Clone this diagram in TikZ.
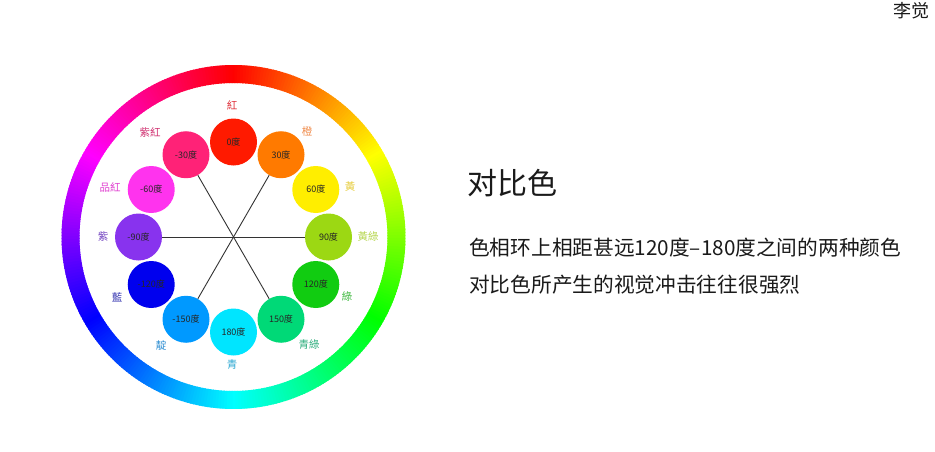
\documentclass[tikz,border=0pt]{standalone}
\usepackage{fontspec}
\usetikzlibrary{calc}
\newfontfamily\cjksc{Noto Sans CJK SC}
\newfontfamily\cjktc{Noto Sans CJK TC}
\definecolor{col0}{HTML}{FF1A00}
\definecolor{col30}{HTML}{FF7A00}
\definecolor{col60}{HTML}{FFEE00}
\definecolor{col90}{HTML}{9CD813}
\definecolor{col120}{HTML}{11CC11}
\definecolor{col150}{HTML}{00D977}
\definecolor{col180}{HTML}{00E5FF}
\definecolor{colm150}{HTML}{0099FF}
\definecolor{colm120}{HTML}{0000EE}
\definecolor{colm90}{HTML}{8833EE}
\definecolor{colm60}{HTML}{FF33EE}
\definecolor{colm30}{HTML}{FF2277}
\definecolor{lab0}{HTML}{E0303A}
\definecolor{lab30}{HTML}{F08C4C}
\definecolor{lab60}{HTML}{E6CC3A}
\definecolor{lab90}{HTML}{B6D64E}
\definecolor{lab120}{HTML}{3CB83C}
\definecolor{lab150}{HTML}{2EAE7E}
\definecolor{lab180}{HTML}{2EA8D2}
\definecolor{labm150}{HTML}{2E8ED2}
\definecolor{labm120}{HTML}{3434B0}
\definecolor{labm90}{HTML}{7040C0}
\definecolor{labm60}{HTML}{E040D0}
\definecolor{labm30}{HTML}{D03070}
\definecolor{spokec}{HTML}{333333}
\definecolor{textc}{HTML}{1A1A1A}
\tikzset{
  huecircle/.style={circle, minimum size=47pt, inner sep=0pt, text=black!85, font=\cjksc\fontsize{9}{10}\selectfont},
  huelabel/.style={inner sep=0pt, font=\cjktc\fontsize{10.5}{11}\selectfont},
  spoke/.style={draw=spokec, line width=0.9pt},
  bodytext/.style={anchor=west, inner sep=0pt, text=textc, font=\cjksc\fontsize{20.7}{24}\selectfont},
}
\begin{document}
\begin{tikzpicture}[x=1pt,y=1pt]
\useasboundingbox (0,0) rectangle (935,451);
\fill[white] (0,0) rectangle (935,451);
\coordinate (O) at (233.5,214);
% hue ring
\foreach \a in {0,...,359} {
  \pgfmathsetmacro{\hh}{\a < 240 ? \a : 240 + (\a-240)*1.0}
  \definecolor{ringc}{Hsb}{\hh,1,1}
  \pgfmathsetmacro{\sa}{90-\a+0.7}
  \pgfmathsetmacro{\ea}{90-\a-0.7}
  \fill[ringc] ($(O)+(\sa:154)$) arc[start angle=\sa, end angle=\ea, radius=154pt]
     -- ($(O)+(\ea:172)$) arc[start angle=\ea, end angle=\sa, radius=172pt] -- cycle;
}
% hue circles
\foreach \h/\n/\t in {0/0/0度, 30/30/30度, 60/60/60度, 90/90/90度, 120/120/120度, 150/150/150度, 180/180/180度, -150/m150/-150度, -120/m120/-120度, -90/m90/-90度, -60/m60/-60度, -30/m30/-30度} {
  \node[huecircle, fill=col\n] (c\n) at ($(O)+({90-\h}:95)$) {\t};
}
% spokes
\draw[spoke] (cm30) -- (c150);
\draw[spoke] (c30) -- (cm150);
\draw[spoke] (cm90) -- (c90);
% labels
\node[huelabel, text=lab0] (l0) at (232,346) {紅};
\node[huelabel, text=lab30] (l30) at (307,319) {橙};
\node[huelabel, text=lab60] (l60) at (350,264) {黃};
\node[huelabel, text=lab90] (l90) at (368,214) {黃綠};
\node[huelabel, text=lab120] (l120) at (347,154) {綠};
\node[huelabel, text=lab150] (l150) at (309,106) {青綠};
\node[huelabel, text=lab180] (l180) at (232,86) {青};
\node[huelabel, text=labm150] (lm150) at (161,106) {靛};
\node[huelabel, text=labm120] (lm120) at (117,154) {藍};
\node[huelabel, text=labm90] (lm90) at (103,214) {紫};
\node[huelabel, text=labm60] (lm60) at (110,264) {品紅};
\node[huelabel, text=labm30] (lm30) at (150,319) {紫紅};
% right text
\node[bodytext, font=\cjksc\fontsize{30}{34}\selectfont] (title) at (467,268) {对比色};
\node[bodytext] (line1) at (469,203) {色相环上相距甚远120度–180度之间的两种颜色};
\node[bodytext] (line2) at (469,166) {对比色所产生的视觉冲击往往很强烈};
% watermark
\node[anchor=west, inner sep=0pt, text=textc, font=\cjksc\fontsize{18}{20}\selectfont] (wm) at (893,440) {李觉};
\end{tikzpicture}
\end{document}
